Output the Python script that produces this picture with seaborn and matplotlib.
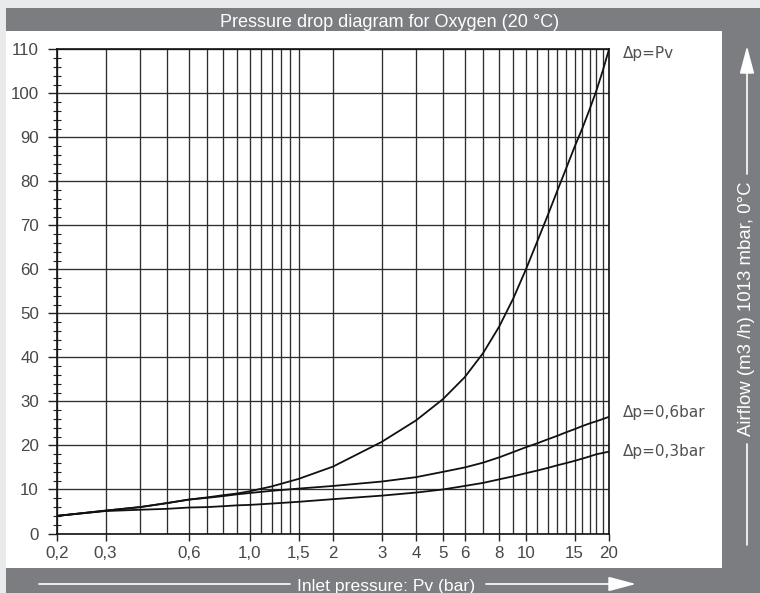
import matplotlib
matplotlib.use("Agg")
import matplotlib.pyplot as plt
import numpy as np
import pandas as pd
import seaborn as sns
from matplotlib.patches import Rectangle, FancyArrowPatch
from matplotlib.lines import Line2D
from matplotlib.ticker import FixedLocator, FixedFormatter, MultipleLocator, NullFormatter
from matplotlib.transforms import blended_transform_factory

# ---------------- data ----------------
pressure = [0.2, 0.3, 0.4, 0.5, 0.6, 0.7, 0.8, 0.9, 1.0, 1.2, 1.5, 2, 3, 4, 5, 6, 7, 8, 9,
            10, 11, 12, 13, 14, 15, 16, 17, 18, 19, 20]
flow_pv = [4.0, 5.2, 6.0, 6.9, 7.7, 8.2, 8.7, 9.1, 9.6, 10.7, 12.4, 15.2, 20.8, 25.7, 30.5,
           35.5, 41.0, 47.0, 53.4, 60.0, 66.4, 72.3, 77.9, 83.0, 87.8, 92.0, 96.3, 100.6, 105.2, 110.0]
flow_06 = [4.0, 5.2, 6.0, 6.9, 7.7, 8.1, 8.5, 8.9, 9.2, 9.7, 10.2, 10.8, 11.8, 12.8, 14.0,
           15.0, 16.1, 17.3, 18.5, 19.6, 20.5, 21.4, 22.2, 23.0, 23.7, 24.4, 25.0, 25.5, 26.0, 26.5]
flow_03 = [4.0, 5.1, 5.4, 5.6, 5.9, 6.0, 6.2, 6.4, 6.5, 6.8, 7.2, 7.8, 8.6, 9.3, 10.0,
           10.8, 11.5, 12.3, 13.0, 13.7, 14.3, 14.9, 15.5, 16.0, 16.5, 17.0, 17.5, 18.0, 18.3, 18.6]
curve_labels = ["Δp=Pv", "Δp=0,6bar", "Δp=0,3bar"]

x_ticks = [0.2, 0.3, 0.6, 1.0, 1.5, 2, 3, 4, 5, 6, 8, 10, 15, 20]
x_ticklabels = ["0,2", "0,3", "0,6", "1,0", "1,5", "2", "3", "4", "5", "6", "8", "10", "15", "20"]
x_gridlines = [0.2, 0.3, 0.4, 0.5, 0.6, 0.7, 0.8, 0.9, 1.0, 1.1, 1.2, 1.3, 1.4, 1.5, 2,
               3, 4, 5, 6, 7, 8, 9, 10, 11, 12, 13, 14, 15, 16, 17, 18, 19, 20]
y_ticks = [0, 10, 20, 30, 40, 50, 60, 70, 80, 90, 100, 110]

title_text = "Pressure drop diagram for Oxygen (20 °C)"
x_label = "Inlet pressure: Pv (bar)"
y_label = "Airflow (m3 /h) 1013 mbar, 0°C"

df = pd.DataFrame({
    "pressure": pressure * 3,
    "flow": flow_pv + flow_06 + flow_03,
    "curve": [curve_labels[0]] * len(pressure) + [curve_labels[1]] * len(pressure)
             + [curve_labels[2]] * len(pressure),
})

# ---------------- style ----------------
sns.set_theme(style="ticks")
plt.rcParams["font.family"] = ["Liberation Sans", "DejaVu Sans"]

W, H = 760, 593
GRAY = "#7c7d81"
LIGHT = "#e9eaeb"
fig = plt.figure(figsize=(W / 100, H / 100), dpi=100, facecolor=LIGHT)


def fx(px):
    return px / W


def fy(py):
    return 1 - py / H


fig.add_artist(Rectangle((fx(6), 0), 1 - fx(6), fy(8), transform=fig.transFigure,
                         facecolor=GRAY, edgecolor="none", zorder=0))
fig.add_artist(Rectangle((fx(6), fy(568)), fx(722) - fx(6), fy(31) - fy(568),
                         transform=fig.transFigure, facecolor="white", edgecolor="none", zorder=0))

ax = fig.add_axes([fx(57), fy(533.5), fx(609) - fx(57), fy(49.3) - fy(533.5)])
ax.set_facecolor("white")

sns.lineplot(data=df, x="pressure", y="flow", hue="curve", palette=["#111111"] * 3,
             estimator=None, legend=False, linewidth=1.3, ax=ax, zorder=5)

ax.set_xscale("log")
ax.set_xlim(0.2, 20)
ax.set_ylim(0, 110)
ax.set_xlabel("")
ax.set_ylabel("")

ax.xaxis.set_major_locator(FixedLocator(x_ticks))
ax.xaxis.set_major_formatter(FixedFormatter(x_ticklabels))
ax.xaxis.set_minor_locator(FixedLocator(x_gridlines))
ax.xaxis.set_minor_formatter(NullFormatter())
ax.yaxis.set_major_locator(FixedLocator(y_ticks))
ax.yaxis.set_minor_locator(MultipleLocator(2))

grid_kw = dict(color="#2e2e2e", linewidth=0.95)
ax.grid(True, which="both", axis="x", **grid_kw)
ax.grid(True, which="major", axis="y", **grid_kw)

label_color = "#474747"
ax.tick_params(axis="x", which="major", direction="out", length=5, width=1.0,
               color="#222222", pad=4, labelsize=12.2, labelcolor=label_color)
ax.tick_params(axis="x", which="minor", length=0)
ax.tick_params(axis="y", which="major", direction="out", length=6.5, width=1.0,
               color="#222222", pad=6.5, labelsize=12.2, labelcolor=label_color)
ax.tick_params(axis="y", which="minor", direction="inout", length=6, width=0.8, color="#222222")

for s in ax.spines.values():
    s.set_visible(True)
    s.set_color("#111111")
    s.set_linewidth(1.2)

# curve labels at right
trans = blended_transform_factory(ax.transAxes, ax.transData)
label_offsets = [-1.0, 0.9, 0.0]
ends = [flow_pv[-1], flow_06[-1], flow_03[-1]]
for lab, yv, off in zip(curve_labels, ends, label_offsets):
    ax.text(1.0 + 14 / 552, yv + off, lab, transform=trans, ha="left", va="center",
            fontsize=11, color="#505050", family=["DejaVu Sans"], clip_on=False)

# title bar text
fig.text(fx(390), fy(26.7), title_text, color="white", ha="center", va="baseline", fontsize=13)

# bottom axis label with arrow
fig.text(fx(386.5), fy(591), x_label, color="white", ha="center", va="baseline", fontsize=12.6)
fig.add_artist(Line2D([fx(39), fx(290)], [fy(584), fy(584)], transform=fig.transFigure,
                      color="white", linewidth=1.2))
fig.add_artist(FancyArrowPatch((fx(486), fy(584)), (fx(636), fy(584)), transform=fig.transFigure,
                               arrowstyle="-|>,head_length=1.7,head_width=0.45",
                               mutation_scale=10, color="white", linewidth=1.2,
                               shrinkA=0, shrinkB=0))

# right axis label with arrow
fig.text(fx(746.7), fy(309), y_label, color="white", ha="center", va="center",
         rotation=90, fontsize=13.4)
fig.add_artist(Line2D([fx(747), fx(747)], [fy(545), fy(444)], transform=fig.transFigure,
                      color="white", linewidth=1.2))
fig.add_artist(FancyArrowPatch((fx(747), fy(174)), (fx(747), fy(46)), transform=fig.transFigure,
                               arrowstyle="-|>,head_length=1.7,head_width=0.45",
                               mutation_scale=10, color="white", linewidth=1.2,
                               shrinkA=0, shrinkB=0))

fig.savefig("out.png", dpi=100, facecolor=LIGHT)
